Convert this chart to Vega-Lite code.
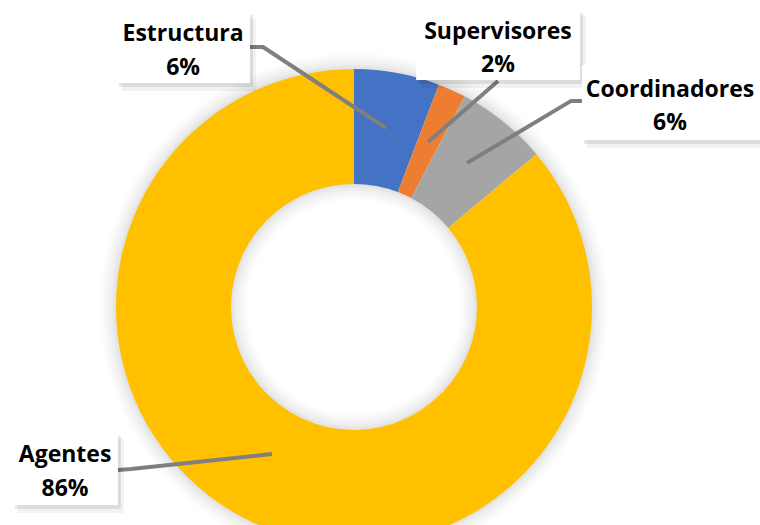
{
  "$schema": "https://vega.github.io/schema/vega-lite/v6.json",
  "width": 760,
  "height": 525,
  "autosize": "none",
  "padding": 0,
  "background": "white",
  "config": {"view": {"stroke": null}},
  "datasets": {
    "slices": [
      {"name": "Estructura", "value": 5.8, "ord": 1},
      {"name": "Supervisores", "value": 1.9, "ord": 2},
      {"name": "Coordinadores", "value": 6.2, "ord": 3},
      {"name": "Agentes", "value": 86.1, "ord": 4}
    ],
    "ring": [{"v": 100}],
    "labels": [
      {"name": "Estructura", "pct": "6%", "bx1": -0.996, "bx2": -0.437, "by1": 1.239, "by2": 0.941, "tx": -0.718, "ty1": 1.118, "ty2": 0.975},
      {"name": "Supervisores", "pct": "2%", "bx1": 0.261, "bx2": 0.95, "by1": 1.248, "by2": 0.954, "tx": 0.605, "ty1": 1.126, "ty2": 0.987},
      {"name": "Coordinadores", "pct": "6%", "bx1": 0.958, "bx2": 1.72, "by1": 1.017, "by2": 0.702, "tx": 1.328, "ty1": 0.882, "ty2": 0.744},
      {"name": "Agentes", "pct": "86%", "bx1": -1.433, "bx2": -0.992, "by1": -0.529, "by2": -0.832, "tx": -1.214, "ty1": -0.651, "ty2": -0.794}
    ],
    "leaders": [
      {"name": "Estructura", "seq": 1, "lx": -0.437, "ly": 1.092},
      {"name": "Estructura", "seq": 2, "lx": -0.382, "ly": 1.092},
      {"name": "Estructura", "seq": 3, "lx": 0.134, "ly": 0.752},
      {"name": "Supervisores", "seq": 1, "lx": 0.605, "ly": 0.95},
      {"name": "Supervisores", "seq": 2, "lx": 0.311, "ly": 0.693},
      {"name": "Coordinadores", "seq": 1, "lx": 0.958, "ly": 0.866},
      {"name": "Coordinadores", "seq": 2, "lx": 0.912, "ly": 0.866},
      {"name": "Coordinadores", "seq": 3, "lx": 0.475, "ly": 0.605},
      {"name": "Agentes", "seq": 1, "lx": -0.992, "ly": -0.685},
      {"name": "Agentes", "seq": 2, "lx": -0.937, "ly": -0.681},
      {"name": "Agentes", "seq": 3, "lx": -0.345, "ly": -0.618}
    ]
  },
  "layer": [
    {
      "data": {"name": "ring"},
      "mark": {"type": "arc", "outerRadius": 238, "innerRadius": 123, "fill": "#000000", "fillOpacity": 0, "stroke": "#000000", "strokeOpacity": 0.012, "strokeWidth": 32},
      "encoding": {
        "theta": {"field": "v", "type": "quantitative"},
        "x": {"datum": 0, "type": "quantitative", "scale": {"domain": [-1.4874, 1.7059], "nice": false, "zero": false}, "axis": null},
        "y": {"datum": 0, "type": "quantitative", "scale": {"domain": [-0.916, 1.290], "nice": false, "zero": false}, "axis": null}
      }
    },
    {
      "data": {"name": "ring"},
      "mark": {"type": "arc", "outerRadius": 238, "innerRadius": 123, "fill": "#000000", "fillOpacity": 0, "stroke": "#000000", "strokeOpacity": 0.015, "strokeWidth": 26},
      "encoding": {"theta": {"field": "v", "type": "quantitative"}, "x": {"datum": 0, "type": "quantitative"}, "y": {"datum": 0, "type": "quantitative"}}
    },
    {
      "data": {"name": "ring"},
      "mark": {"type": "arc", "outerRadius": 238, "innerRadius": 123, "fill": "#000000", "fillOpacity": 0, "stroke": "#000000", "strokeOpacity": 0.018, "strokeWidth": 20},
      "encoding": {"theta": {"field": "v", "type": "quantitative"}, "x": {"datum": 0, "type": "quantitative"}, "y": {"datum": 0, "type": "quantitative"}}
    },
    {
      "data": {"name": "ring"},
      "mark": {"type": "arc", "outerRadius": 238, "innerRadius": 123, "fill": "#000000", "fillOpacity": 0, "stroke": "#000000", "strokeOpacity": 0.02, "strokeWidth": 14},
      "encoding": {"theta": {"field": "v", "type": "quantitative"}, "x": {"datum": 0, "type": "quantitative"}, "y": {"datum": 0, "type": "quantitative"}}
    },
    {
      "data": {"name": "ring"},
      "mark": {"type": "arc", "outerRadius": 238, "innerRadius": 123, "fill": "#000000", "fillOpacity": 0, "stroke": "#000000", "strokeOpacity": 0.022, "strokeWidth": 8},
      "encoding": {"theta": {"field": "v", "type": "quantitative"}, "x": {"datum": 0, "type": "quantitative"}, "y": {"datum": 0, "type": "quantitative"}}
    },
    {
      "data": {"name": "ring"},
      "mark": {"type": "arc", "outerRadius": 238, "innerRadius": 123, "fill": "#000000", "fillOpacity": 0, "stroke": "#000000", "strokeOpacity": 0.025, "strokeWidth": 4},
      "encoding": {"theta": {"field": "v", "type": "quantitative"}, "x": {"datum": 0, "type": "quantitative"}, "y": {"datum": 0, "type": "quantitative"}}
    },
    {
      "data": {"name": "slices"},
      "mark": {"type": "arc", "outerRadius": 238, "innerRadius": 123},
      "encoding": {
        "theta": {"field": "value", "type": "quantitative", "stack": true},
        "order": {"field": "ord", "type": "quantitative"},
        "color": {
          "field": "name",
          "type": "nominal",
          "scale": {"domain": ["Estructura", "Supervisores", "Coordinadores", "Agentes"], "range": ["#4472C4", "#ED7D31", "#A5A5A5", "#FFC000"]},
          "legend": null
        },
        "x": {"datum": 0, "type": "quantitative"},
        "y": {"datum": 0, "type": "quantitative"}
      }
    },
    {
      "data": {"name": "leaders"},
      "mark": {"type": "line", "color": "#7F7F7F", "strokeWidth": 4, "strokeCap": "butt", "strokeJoin": "miter"},
      "encoding": {
        "x": {"field": "lx", "type": "quantitative"},
        "y": {"field": "ly", "type": "quantitative"},
        "detail": {"field": "name"},
        "order": {"field": "seq", "type": "quantitative"}
      }
    },
    {
      "data": {"name": "labels"},
      "mark": {"type": "rect", "color": "#000000", "opacity": 0.05, "xOffset": 5, "x2Offset": 6, "yOffset": 6, "y2Offset": 8},
      "encoding": {
        "x": {"field": "bx1", "type": "quantitative"},
        "x2": {"field": "bx2"},
        "y": {"field": "by1", "type": "quantitative"},
        "y2": {"field": "by2"}
      }
    },
    {
      "data": {"name": "labels"},
      "mark": {"type": "rect", "color": "#000000", "opacity": 0.09, "xOffset": 2, "x2Offset": 3, "yOffset": 3, "y2Offset": 4},
      "encoding": {
        "x": {"field": "bx1", "type": "quantitative"},
        "x2": {"field": "bx2"},
        "y": {"field": "by1", "type": "quantitative"},
        "y2": {"field": "by2"}
      }
    },
    {
      "data": {"name": "labels"},
      "mark": {"type": "rect", "color": "#FFFFFF"},
      "encoding": {
        "x": {"field": "bx1", "type": "quantitative"},
        "x2": {"field": "bx2"},
        "y": {"field": "by1", "type": "quantitative"},
        "y2": {"field": "by2"}
      }
    },
    {
      "data": {"name": "labels"},
      "mark": {"type": "text", "font": "Open Sans", "fontWeight": "bold", "fontSize": 23, "color": "#000000", "align": "center", "baseline": "alphabetic"},
      "encoding": {
        "x": {"field": "tx", "type": "quantitative"},
        "y": {"field": "ty1", "type": "quantitative"},
        "text": {"field": "name"}
      }
    },
    {
      "data": {"name": "labels"},
      "mark": {"type": "text", "font": "Open Sans", "fontWeight": "bold", "fontSize": 23, "color": "#000000", "align": "center", "baseline": "alphabetic"},
      "encoding": {
        "x": {"field": "tx", "type": "quantitative"},
        "y": {"field": "ty2", "type": "quantitative"},
        "text": {"field": "pct"}
      }
    }
  ]
}
